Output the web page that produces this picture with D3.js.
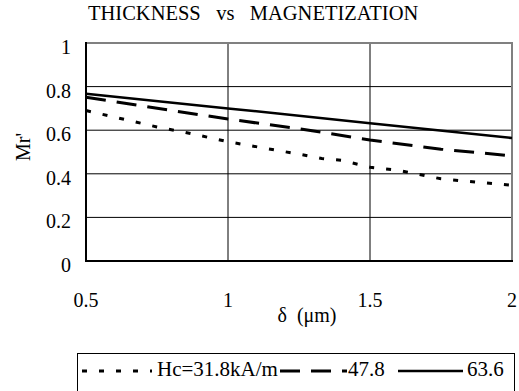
<!DOCTYPE html>
<html>
<head>
<meta charset="utf-8">
<script src="https://cdn.jsdelivr.net/npm/d3@7"></script>
<style>
  html, body { margin: 0; padding: 0; background: #fff; }
  svg { display: block; }
  text { font-family: "Liberation Serif", "Times New Roman", serif; fill: #000; white-space: pre; }
</style>
</head>
<body>
<svg id="chart" width="519" height="391"></svg>
<script>
// ---- data ----
const title = "THICKNESS   vs   MAGNETIZATION";
const xLabel = "δ  (μm)";
const yLabel = "Mr'";
const xTicks = [0.5, 1, 1.5, 2];
const yTicks = [0, 0.2, 0.4, 0.6, 0.8, 1];
const seriesNames = ["Hc=31.8kA/m", "47.8", "63.6"];

const thickness318 = [0.5, 0.75, 0.85, 1.0, 1.25, 1.33, 1.4, 1.5, 1.6, 1.75, 2.0];
const mr318 = [0.69, 0.615, 0.59, 0.547, 0.49, 0.47, 0.462, 0.43, 0.416, 0.377, 0.347];

const thickness478 = [0.5, 1.0, 1.25, 1.5, 1.75, 2.0];
const mr478 = [0.751, 0.651, 0.607, 0.555, 0.513, 0.482];

const thickness636 = [0.5, 1.0, 1.5, 2.0];
const mr636 = [0.767, 0.700, 0.632, 0.564];

// ---- layout ----
(function () {
const svg = d3.select("#chart");
const pL = 86, pR = 512, pT = 43, pB = 261;
const FS = "20px";
const x = d3.scaleLinear().domain([0.5, 2]).range([pL, pR]);
const y = d3.scaleLinear().domain([0, 1]).range([pB, pT]);

const styles = [
  { dash: "5,12", width: 3 },
  { dash: "20,11", width: 3 },
  { dash: null, width: 2.5 }
];
const series = [
  { name: seriesNames[0], xs: thickness318, ys: mr318 },
  { name: seriesNames[1], xs: thickness478, ys: mr478 },
  { name: seriesNames[2], xs: thickness636, ys: mr636 }
];

// title
svg.append("text").attr("x", 88).attr("y", 20)
  .attr("text-anchor", "start").style("font-size", "20.5px").text(title);

// gridlines
const g = svg.append("g");
g.selectAll("line.hg").data(yTicks.filter(d => d > 0 && d < 1)).enter().append("line")
  .attr("x1", pL).attr("x2", pR)
  .attr("y1", d => y(d)).attr("y2", d => y(d))
  .attr("stroke", "#000").attr("stroke-width", 1);
g.selectAll("line.vg").data(xTicks.filter(d => d > 0.5 && d < 2)).enter().append("line")
  .attr("x1", d => x(d)).attr("x2", d => x(d))
  .attr("y1", pT).attr("y2", pB)
  .attr("stroke", "#000").attr("stroke-width", 1);

// plot border: top/right gray
svg.append("line").attr("x1", pL).attr("x2", pR + 1).attr("y1", pT).attr("y2", pT)
  .attr("stroke", "#808080").attr("stroke-width", 2);
svg.append("line").attr("x1", pR).attr("x2", pR).attr("y1", pT).attr("y2", pB)
  .attr("stroke", "#808080").attr("stroke-width", 2);

// series lines
const line = d3.line().x(d => x(d[0])).y(d => y(d[1]));
series.forEach((s, i) => {
  const pts = s.xs.map((v, k) => [v, s.ys[k]]);
  svg.append("path").datum(pts)
    .attr("d", line)
    .attr("fill", "none")
    .attr("stroke", "#000")
    .attr("stroke-width", styles[i].width)
    .attr("stroke-dasharray", styles[i].dash);
});

// axes (left & bottom black)
svg.append("line").attr("x1", pL).attr("x2", pL).attr("y1", pT - 1).attr("y2", pB + 1)
  .attr("stroke", "#000").attr("stroke-width", 2);
svg.append("line").attr("x1", pL - 1).attr("x2", pR + 1).attr("y1", pB).attr("y2", pB)
  .attr("stroke", "#000").attr("stroke-width", 2);

// y tick labels
svg.selectAll("text.yt").data(yTicks).enter().append("text")
  .attr("x", 71).attr("y", d => y(d) + 11)
  .attr("text-anchor", "end").style("font-size", FS)
  .text(d => d3.format("")(d));

// x tick labels
svg.selectAll("text.xt").data(xTicks).enter().append("text")
  .attr("x", d => x(d)).attr("y", 307)
  .attr("text-anchor", "middle").style("font-size", FS)
  .text(d => d3.format("")(d));

// axis titles
svg.append("text").attr("x", 307).attr("y", 322)
  .attr("text-anchor", "middle").style("font-size", FS).text(xLabel);
svg.append("text").attr("transform", "translate(30,147) rotate(-90)")
  .attr("text-anchor", "middle").style("font-size", FS).text(yLabel);

// legend
svg.append("rect").attr("x", 77.5).attr("y", 353.5).attr("width", 437).attr("height", 60)
  .attr("fill", "none").attr("stroke", "#000").attr("stroke-width", 1);
const legendItems = [
  { x1: 82, x2: 152, tx: 157 },
  { x1: 280, x2: 347, tx: 348 },
  { x1: 398, x2: 463, tx: 467 }
];
series.forEach((s, i) => {
  const it = legendItems[i];
  svg.append("line").attr("x1", it.x1).attr("x2", it.x2).attr("y1", 371).attr("y2", 371)
    .attr("stroke", "#000").attr("stroke-width", styles[i].width)
    .attr("stroke-dasharray", styles[i].dash);
  svg.append("text").attr("x", it.tx).attr("y", 376)
    .style("font-size", "21px").text(s.name);
});
})();
</script>
</body>
</html>
